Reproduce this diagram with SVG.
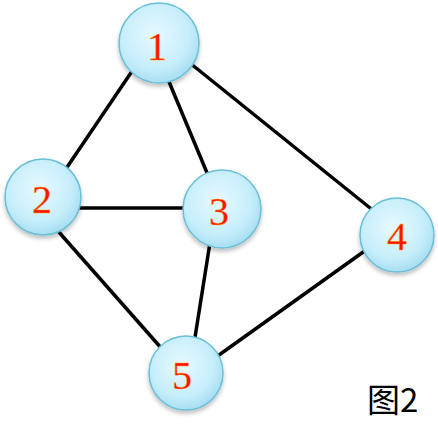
<svg xmlns="http://www.w3.org/2000/svg" width="438" height="427" viewBox="0 0 438 427">
<defs>
<radialGradient id="g" cx="0.45" cy="0.4" r="0.6">
<stop offset="0" stop-color="#e8f9ff"/>
<stop offset="0.7" stop-color="#c6eefb"/>
<stop offset="1" stop-color="#a8def2"/>
</radialGradient>
<filter id="sh" x="-20%" y="-20%" width="140%" height="150%">
<feGaussianBlur in="SourceAlpha" stdDeviation="2"/>
<feOffset dy="3"/>
<feComponentTransfer><feFuncA type="linear" slope="0.25"/></feComponentTransfer>
<feMerge><feMergeNode/><feMergeNode in="SourceGraphic"/></feMerge>
</filter>
</defs>
<style>
.n{fill:url(#g);stroke:#6bbfd6;stroke-width:1.5;filter:url(#sh)}
.t{font-family:"Liberation Serif","Times New Roman",serif;font-size:40px;fill:#ff1200;stroke:#ffa000;stroke-width:0.4;text-anchor:middle}
.e{stroke:#000;stroke-width:3.5;fill:none}
.c{font-family:"Noto Sans CJK SC","Liberation Sans",sans-serif;font-size:33px;fill:#000}
</style>
<g id="edges">
<line class="e" x1="145" y1="52" x2="55" y2="185"/>
<line class="e" x1="162" y1="65" x2="210" y2="180"/>
<line class="e" x1="180" y1="55" x2="385" y2="220"/>
<line class="e" x1="60" y1="208" x2="200" y2="208"/>
<line class="e" x1="50" y1="222" x2="170" y2="358"/>
<line class="e" x1="212" y1="230" x2="193" y2="350"/>
<line class="e" x1="205" y1="365" x2="380" y2="240"/>
</g>
<g id="node1"><circle class="n" cx="159" cy="43" r="40"/><text class="t" x="157" y="60">1</text></g>
<g id="node2"><circle class="n" cx="43" cy="197" r="38"/><text class="t" x="42" y="213">2</text></g>
<g id="node3"><circle class="n" cx="222" cy="209" r="39"/><text class="t" x="219" y="225">3</text></g>
<g id="node4"><circle class="n" cx="397" cy="235" r="37"/><text class="t" x="397" y="250">4</text></g>
<g id="node5"><circle class="n" cx="186" cy="373" r="37"/><text class="t" x="182" y="389">5</text></g>
<text class="c" x="367" y="412">图2</text>
</svg>
